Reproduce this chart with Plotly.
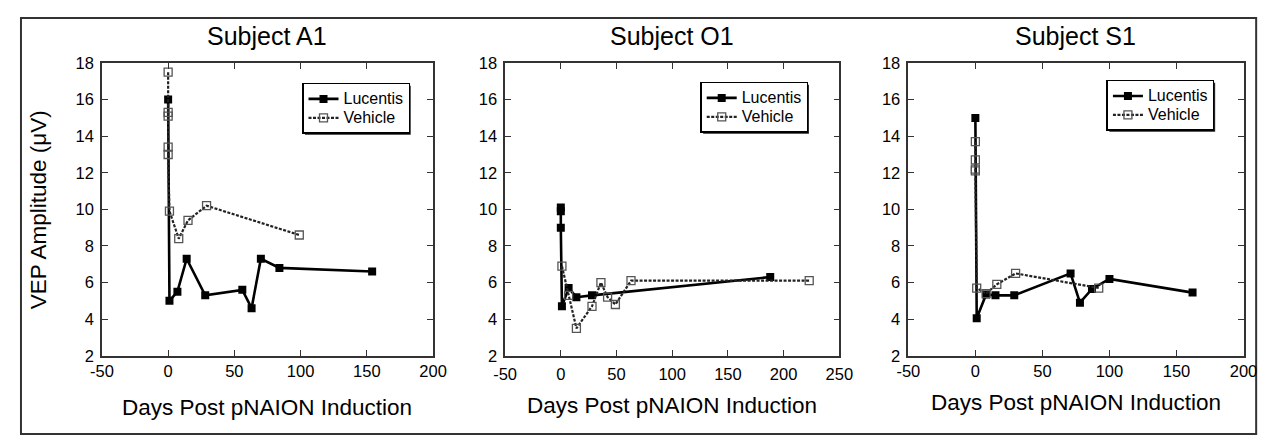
import plotly.graph_objects as go

# ---------------- data ----------------
subjects = ["Subject A1", "Subject O1", "Subject S1"]
series_names = ["Lucentis", "Vehicle"]

a1_luc_x = [0, 1, 7, 14, 28, 56, 63, 70, 84, 154]
a1_luc_y = [16.0, 5.0, 5.5, 7.3, 5.3, 5.6, 4.6, 7.3, 6.8, 6.6]
a1_veh_x = [0, 0, 0, 0, 0, 1, 8, 15, 29, 99]
a1_veh_y = [17.5, 15.3, 15.1, 13.4, 13.0, 9.9, 8.4, 9.4, 10.2, 8.6]

o1_luc_x = [0, 0, 0, 1, 7, 14, 28, 188]
o1_luc_y = [10.1, 9.9, 9.0, 4.7, 5.7, 5.2, 5.3, 6.3]
o1_veh_x = [1, 7, 14, 28, 36, 42, 49, 63, 223]
o1_veh_y = [6.9, 5.3, 3.5, 4.7, 6.0, 5.2, 4.8, 6.1, 6.1]

s1_luc_x = [0, 1, 8, 15, 29, 71, 78, 87, 100, 162]
s1_luc_y = [15.0, 4.05, 5.35, 5.3, 5.3, 6.5, 4.9, 5.65, 6.2, 5.45]
s1_veh_x = [0, 0, 0, 0, 1, 8, 16, 30, 92]
s1_veh_y = [13.7, 12.7, 12.2, 12.1, 5.7, 5.4, 5.9, 6.5, 5.7]

x_ticks = [[-50, 0, 50, 100, 150, 200],
           [-50, 0, 50, 100, 150, 200, 250],
           [-50, 0, 50, 100, 150, 200]]
y_ticks = [2, 4, 6, 8, 10, 12, 14, 16, 18]
x_title = "Days Post pNAION Induction"
y_title = "VEP Amplitude (μV)"

data = [
    (a1_luc_x, a1_luc_y, a1_veh_x, a1_veh_y),
    (o1_luc_x, o1_luc_y, o1_veh_x, o1_veh_y),
    (s1_luc_x, s1_luc_y, s1_veh_x, s1_veh_y),
]

# ---------------- layout geometry ----------------
W, H = 1270, 437

# target positions in the photographed picture -> figure pixels
def tx(r):
    return r / 0.979 - 21.6

def ty(r):
    return r / 0.963 - 16.4

ref_px_x = [(103, 434), (506, 840), (909, 1244)]
ref_px_y = (62, 356)
ref_legend = [(303, 82), (701, 81), (1107, 79)]
ref_title_y = 35
ref_xtitle_y = [408, 405.5, 403]
xtick_standoff = [0, 3, 0]
LEG_W, LEG_H = 108, 51

def fx(p):
    return p / W

def fy(p):
    return 1 - p / H

FONT = "Liberation Sans, Arial, Helvetica, sans-serif"

def legend_label(s):
    return f'<span style="font-size:16px">{s}</span>'

fig = go.Figure()
for i, (lx, ly, vx, vy) in enumerate(data):
    xa = "x" if i == 0 else f"x{i+1}"
    ya = "y" if i == 0 else f"y{i+1}"
    lg = "legend" if i == 0 else f"legend{i+1}"
    fig.add_trace(go.Scatter(
        x=lx, y=ly, mode="lines+markers", name=legend_label(series_names[0]),
        xaxis=xa, yaxis=ya, legend=lg,
        line=dict(color="black", width=2.6),
        marker=dict(symbol="square", size=8, color="black"),
    ))
    fig.add_trace(go.Scatter(
        x=vx, y=vy, mode="lines+markers", name=legend_label(series_names[1]),
        xaxis=xa, yaxis=ya, legend=lg,
        line=dict(color="#222", width=2.2, dash="3px,1.5px"),
        marker=dict(symbol="square-open", size=8, color="#555",
                    line=dict(width=1.3, color="#555")),
    ))

axis_common = dict(
    showline=True, mirror="ticks", ticks="inside", ticklen=6,
    linecolor="#333", linewidth=1.5, tickcolor="#333", tickwidth=1.2,
    showgrid=False, zeroline=False, tickmode="array",
    tickfont=dict(family=FONT, size=16.5, color="black"),
)

layout = dict(
    width=W, height=H,
    margin=dict(l=0, r=0, t=0, b=0),
    paper_bgcolor="white", plot_bgcolor="white",
    font=dict(family=FONT, color="black"),
    annotations=[], shapes=[],
)

py0, py1 = ty(ref_px_y[0]), ty(ref_px_y[1])
for i in range(3):
    xk = "xaxis" if i == 0 else f"xaxis{i+1}"
    yk = "yaxis" if i == 0 else f"yaxis{i+1}"
    xa = "x" if i == 0 else f"x{i+1}"
    ya = "y" if i == 0 else f"y{i+1}"
    x0, x1 = tx(ref_px_x[i][0]), tx(ref_px_x[i][1])
    xt = x_ticks[i]
    layout[xk] = dict(axis_common, domain=[fx(x0), fx(x1)], range=[xt[0], xt[-1]],
                      tickvals=xt, ticktext=[str(v) for v in xt],
                      anchor=ya, ticklabelstandoff=xtick_standoff[i])
    layout[yk] = dict(axis_common, domain=[fy(py1), fy(py0)],
                      range=[y_ticks[0], y_ticks[-1]],
                      tickvals=y_ticks, ticktext=[str(v) for v in y_ticks],
                      anchor=xa, ticklabelstandoff=3)
    # subplot title
    layout["annotations"].append(dict(
        text=subjects[i], x=fx((x0 + x1) / 2), y=fy(ty(ref_title_y)),
        xref="paper", yref="paper", xanchor="center", yanchor="middle", showarrow=False,
        font=dict(family=FONT, size=25, color="black")))
    # x axis title
    layout["annotations"].append(dict(
        text=x_title, x=fx((x0 + x1) / 2), y=fy(ty(ref_xtitle_y[i])),
        xref="paper", yref="paper", xanchor="center", yanchor="middle", showarrow=False,
        font=dict(family=FONT, size=22.5, color="black")))
    # legend (small base font keeps rows tight; labels drawn at 16px)
    lk = "legend" if i == 0 else f"legend{i+1}"
    lxp, lyp = tx(ref_legend[i][0]), ty(ref_legend[i][1])
    layout[lk] = dict(
        x=fx(lxp), y=fy(lyp), xanchor="left", yanchor="top",
        xref="paper", yref="paper",
        bgcolor="white", bordercolor="black", borderwidth=1.5,
        font=dict(family=FONT, size=12, color="black"),
        itemwidth=30, tracegroupgap=0,
    )
    # legend drop shadow
    layout["shapes"].append(dict(
        type="rect", xref="paper", yref="paper", layer="above",
        x0=fx(lxp + 3), x1=fx(lxp + LEG_W + 3), y0=fy(lyp + LEG_H + 3), y1=fy(lyp + 3),
        fillcolor="#222", line=dict(width=0)))

# y axis title (first panel only)
layout["annotations"].append(dict(
    text=y_title, x=fx(tx(40)), y=fy((py0 + py1) / 2), xref="paper", yref="paper",
    xanchor="center", yanchor="middle", showarrow=False, textangle=-90,
    font=dict(family=FONT, size=22.5, color="black")))

# outer frame
layout["shapes"].append(dict(
    type="rect", xref="paper", yref="paper", layer="below",
    x0=fx(1), x1=fx(W - 8), y0=fy(H - 2), y1=fy(1),
    line=dict(color="#333", width=2), fillcolor="rgba(0,0,0,0)"))

fig.update_layout(**layout)
fig.write_html("out.html")
